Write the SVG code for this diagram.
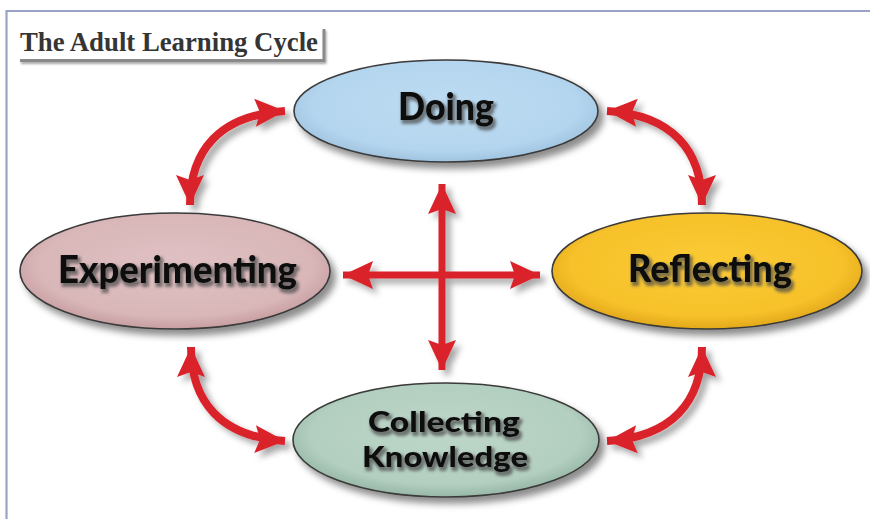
<svg xmlns="http://www.w3.org/2000/svg" width="870" height="519" viewBox="0 0 870 519">
<style>
.node-shape{stroke:#3a3a3a;stroke-width:1.6;filter:url(#shadow)}
.label{font-family:Lato,"Open Sans","Liberation Sans",sans-serif;font-weight:900;fill:#0d0d0d;text-anchor:middle;filter:url(#tglow)}
.conn{fill:none;stroke:#d9232b;stroke-width:8;stroke-linecap:butt;marker-start:url(#head);marker-end:url(#head)}
.cross{stroke-width:7}
.title{font-family:"Liberation Serif","Times New Roman",serif;font-weight:bold;font-size:26.5px;fill:#353535}
</style>
<defs>
<filter id="shadow" x="-20%" y="-20%" width="150%" height="150%">
<feGaussianBlur in="SourceAlpha" stdDeviation="3.5"/>
<feOffset dx="5" dy="6" result="o"/>
<feFlood flood-color="#000" flood-opacity="0.45"/>
<feComposite in2="o" operator="in" result="s"/>
<feMerge><feMergeNode in="s"/><feMergeNode in="SourceGraphic"/></feMerge>
</filter>
<filter id="ashadow" x="-30%" y="-30%" width="170%" height="170%">
<feGaussianBlur in="SourceAlpha" stdDeviation="3"/>
<feOffset dx="5" dy="5" result="o"/>
<feFlood flood-color="#000" flood-opacity="0.35"/>
<feComposite in2="o" operator="in" result="s"/>
<feMerge><feMergeNode in="s"/><feMergeNode in="SourceGraphic"/></feMerge>
</filter>
<filter id="tglow" x="-20%" y="-30%" width="140%" height="170%">
<feMorphology in="SourceAlpha" operator="dilate" radius="1.2" result="d"/>
<feGaussianBlur in="d" stdDeviation="1.6" result="b"/>
<feOffset dx="2" dy="2.5" result="o"/>
<feFlood flood-color="#4a4a4a" flood-opacity="0.7"/>
<feComposite in2="o" operator="in" result="s"/>
<feMerge><feMergeNode in="s"/><feMergeNode in="SourceGraphic"/></feMerge>
</filter>
<filter id="tshadow" x="-10%" y="-10%" width="120%" height="140%">
<feGaussianBlur in="SourceAlpha" stdDeviation="1.2"/>
<feOffset dx="1" dy="1.5" result="o"/>
<feFlood flood-color="#000" flood-opacity="0.35"/>
<feComposite in2="o" operator="in" result="s"/>
<feMerge><feMergeNode in="s"/><feMergeNode in="SourceGraphic"/></feMerge>
</filter>
<radialGradient id="gBlue" cx="50%" cy="45%" r="55%"><stop offset="0" stop-color="#bcdcf2"/><stop offset="0.8" stop-color="#b4d5ee"/><stop offset="1" stop-color="#9fc3e0"/></radialGradient>
<radialGradient id="gPink" cx="50%" cy="45%" r="55%"><stop offset="0" stop-color="#e0c1c3"/><stop offset="0.8" stop-color="#d9b7b9"/><stop offset="1" stop-color="#c79ea1"/></radialGradient>
<radialGradient id="gGold" cx="50%" cy="45%" r="55%"><stop offset="0" stop-color="#fbcb35"/><stop offset="0.8" stop-color="#f6c12a"/><stop offset="1" stop-color="#e3a81b"/></radialGradient>
<radialGradient id="gGreen" cx="50%" cy="45%" r="55%"><stop offset="0" stop-color="#bdd6c8"/><stop offset="0.8" stop-color="#b3cfc0"/><stop offset="1" stop-color="#97b7a6"/></radialGradient>
<marker id="head" markerUnits="userSpaceOnUse" markerWidth="32" markerHeight="30" refX="30" refY="14" orient="auto-start-reverse" viewBox="0 0 32 28">
<path d="M0,0 L30,14 L0,28 L5,14 Z" fill="#d9232b"/>
</marker>
</defs>
<rect width="870" height="519" fill="#ffffff"/>
<path d="M6.5,519 V11 H870" fill="none" stroke="#9aa2c6" stroke-width="2.2"/>
<g id="title">
<path d="M20,60.5 H324 V29" fill="none" stroke="#8a8a8a" stroke-width="3" filter="url(#tshadow)"/>
<text class="title" x="20" y="51" textLength="298" lengthAdjust="spacingAndGlyphs">The Adult Learning Cycle</text>
</g>
<g id="connectors" filter="url(#ashadow)">
<path class="conn" d="M190,205 C190,150 220,115 285,111"/>
<path class="conn" d="M702,205 C702,150 672,115 607,111"/>
<path class="conn" d="M191,347 C191,402 221,437 285,441"/>
<path class="conn" d="M702,347 C702,402 672,437 607,441"/>
<path class="conn cross" d="M442,184 L442,370"/>
<path class="conn cross" d="M343,275 L540,275"/>
</g>
<g id="doing">
<ellipse class="node-shape" cx="446" cy="111" rx="152" ry="51" fill="url(#gBlue)"/>
<text class="label" x="446" y="120" font-size="38" textLength="96" lengthAdjust="spacingAndGlyphs">Doing</text>
</g>
<g id="experimenting">
<ellipse class="node-shape" cx="175" cy="271" rx="155" ry="58" fill="url(#gPink)"/>
<text class="label" x="177.5" y="283" font-size="38" textLength="239" lengthAdjust="spacingAndGlyphs">Experimenting</text>
</g>
<g id="reflecting">
<ellipse class="node-shape" cx="707" cy="271" rx="155" ry="58" fill="url(#gGold)"/>
<text class="label" x="710" y="282" font-size="38" textLength="164" lengthAdjust="spacingAndGlyphs">Reflecting</text>
</g>
<g id="collecting-knowledge">
<ellipse class="node-shape" cx="446" cy="440" rx="153" ry="57" fill="url(#gGreen)"/>
<text class="label" x="444" y="432" font-size="29" textLength="152" lengthAdjust="spacingAndGlyphs">Collecting</text>
<text class="label" x="445" y="467" font-size="29" textLength="166" lengthAdjust="spacingAndGlyphs">Knowledge</text>
</g>
</svg>
